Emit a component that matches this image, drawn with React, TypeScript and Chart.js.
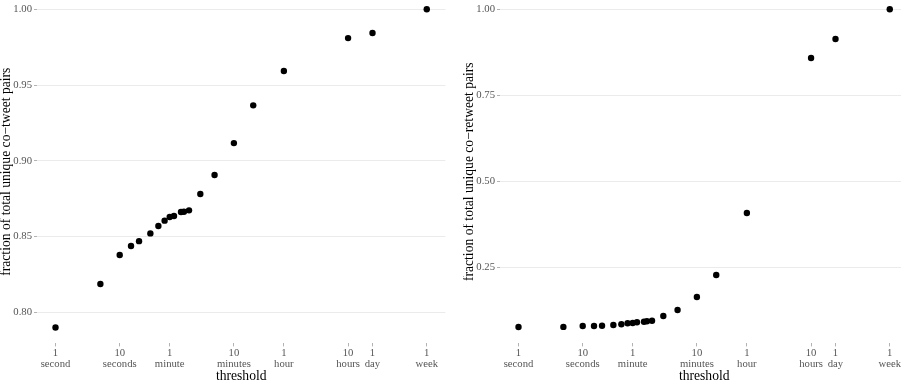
import React, { useEffect, useRef } from 'react';
import { Chart, registerables } from 'chart.js';

Chart.register(...registerables);

// thresholds in seconds
const thresholds = [1, 5, 10, 15, 20, 30, 40, 50, 60, 70, 90, 100, 120, 180, 300, 600, 1200, 3600, 36000, 86400, 604800];
const coTweetFraction = [0.790, 0.8187, 0.8378, 0.8438, 0.847, 0.8521, 0.857, 0.8605, 0.8629, 0.8636, 0.8662, 0.8664, 0.8673, 0.8781, 0.8906, 0.9117, 0.9366, 0.9593, 0.981, 0.9844, 1.0];
const coRetweetFraction = [0.0765, 0.0767, 0.0792, 0.0794, 0.0800, 0.0823, 0.0843, 0.0872, 0.0881, 0.0901, 0.0919, 0.0930, 0.0948, 0.1084, 0.1259, 0.1637, 0.2276, 0.4078, 0.8584, 0.9136, 1.0];

const xTickValues = [1, 10, 60, 600, 3600, 36000, 86400, 604800];
const xTickNumbers = ['1', '10', '1', '10', '1', '10', '1', '1'];
const xTickUnits = ['second', 'seconds', 'minute', 'minutes', 'hour', 'hours', 'day', 'week'];

const leftYTicks = [0.80, 0.85, 0.90, 0.95, 1.00];
const rightYTicks = [0.25, 0.50, 0.75, 1.00];

const FONT = "'Liberation Serif', serif";

type PanelProps = {
  values: number[];
  yTicks: number[];
  yMin: number;
  yMax: number;
  yTitle: string;
  left: number;
};

function Panel({ values, yTicks, yMin, yMax, yTitle, left }: PanelProps) {
  const ref = useRef<HTMLCanvasElement>(null);
  useEffect(() => {
    const chart = new Chart(ref.current as HTMLCanvasElement, {
      type: 'scatter',
      data: {
        datasets: [
          {
            data: thresholds.map((t, i) => ({ x: t, y: values[i] })),
            backgroundColor: '#000000',
            borderWidth: 0,
            pointRadius: 3.2,
            pointHoverRadius: 3.2,
            clip: false,
          },
        ],
      },
      options: {
        animation: false,
        responsive: false,
        maintainAspectRatio: false,
        layout: { autoPadding: false, padding: { left: 0, right: 4.6, top: 0, bottom: 0 } },
        plugins: { legend: { display: false }, tooltip: { enabled: false } },
        scales: {
          x: {
            type: 'logarithmic',
            min: 0.515,
            max: 1.18e6,
            afterBuildTicks: (s: any) => {
              s.ticks = xTickValues.map((v) => ({ value: v }));
            },
            afterFit: (s: any) => {
              s.height = 40.6;
              s.paddingLeft = 0;
              s.paddingRight = 0;
            },
            ticks: {
              autoSkip: false,
              maxRotation: 0,
              minRotation: 0,
              padding: 1,
              color: '#555555',
              font: { family: FONT, size: 10.7, lineHeight: 1.05 },
              callback: (v: any) => {
                const i = xTickValues.indexOf(Number(v));
                return i < 0 ? '' : [xTickNumbers[i], xTickUnits[i]];
              },
            },
            grid: { drawOnChartArea: false, drawTicks: true, tickLength: 3, tickColor: '#b3b3b3' },
            border: { display: false },
            title: {
              display: true,
              text: 'threshold',
              color: '#000000',
              font: { family: FONT, size: 13.6, lineHeight: 1.0 },
              padding: { top: 0, bottom: 1 },
            },
          },
          y: {
            type: 'linear',
            min: yMin,
            max: yMax,
            afterBuildTicks: (s: any) => {
              s.ticks = yTicks.map((v) => ({ value: v }));
            },
            afterFit: (s: any) => {
              s.width = 37;
              s.paddingTop = 0;
              s.paddingBottom = 0;
            },
            ticks: {
              padding: 2,
              color: '#555555',
              font: { family: FONT, size: 10.7 },
              callback: (v: any) => Number(v).toFixed(2),
            },
            grid: { color: '#ebebeb', lineWidth: 1, drawTicks: true, tickLength: 3, tickColor: '#b3b3b3' },
            border: { display: false },
            title: {
              display: true,
              text: yTitle,
              color: '#000000',
              font: { family: FONT, size: 13.6, lineHeight: 1.0 },
              padding: 0,
            },
          },
        },
      },
    } as any);
    return () => chart.destroy();
  }, []);
  return (
    <canvas
      ref={ref}
      width={450}
      height={384}
      style={{ position: 'absolute', left, top: 0, width: 450, height: 384 }}
    />
  );
}

export default function App() {
  return (
    <div
      style={{
        position: 'fixed',
        left: 0,
        top: 0,
        width: 901,
        height: 384,
        overflow: 'hidden',
        background: '#ffffff',
      }}
    >
      <Panel
        values={coTweetFraction}
        yTicks={leftYTicks}
        yMin={0.7795}
        yMax={1.00614}
        yTitle="fraction of total unique co−tweet pairs"
        left={0}
      />
      <Panel
        values={coRetweetFraction}
        yTicks={rightYTicks}
        yMin={0.0288}
        yMax={1.027}
        yTitle="fraction of total unique co−retweet pairs"
        left={463}
      />
    </div>
  );
}
